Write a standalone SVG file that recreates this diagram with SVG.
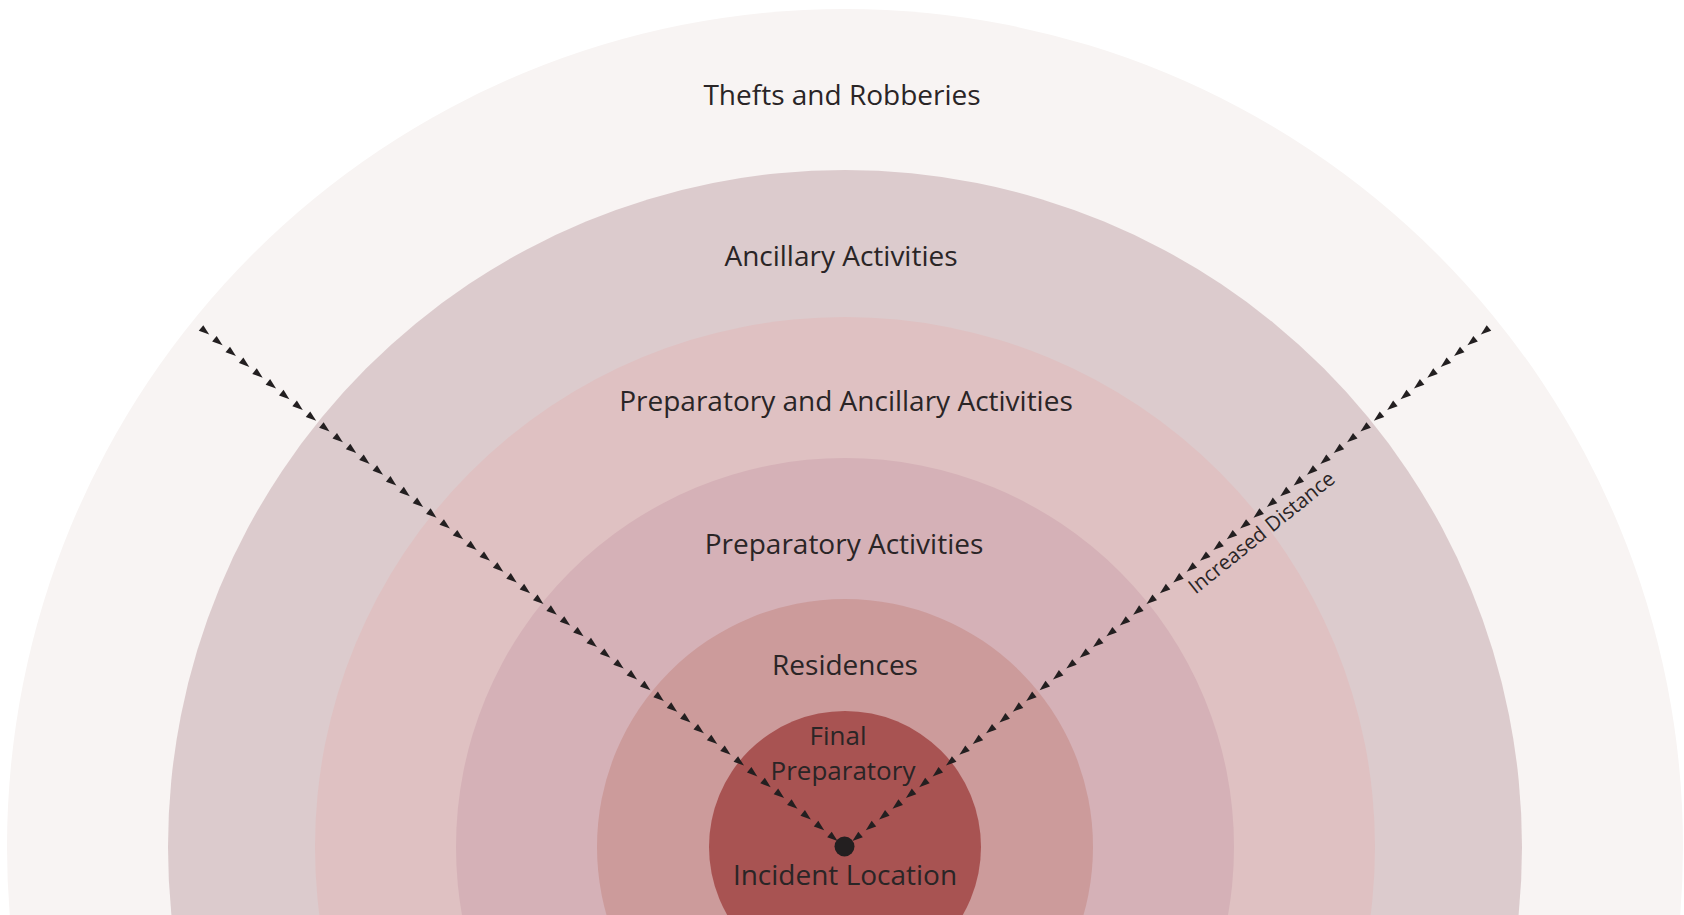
<svg xmlns="http://www.w3.org/2000/svg" width="1684" height="915" viewBox="0 0 1684 915">
<style>
.lbl{font-family:"Open Sans","Noto Sans","Liberation Sans",sans-serif;font-size:28px;fill:#2a2526;text-anchor:middle}
.lbl2{font-family:"Open Sans","Noto Sans","Liberation Sans",sans-serif;font-size:26px;fill:#2a2526;text-anchor:middle}
.small{font-family:"Open Sans","Noto Sans","Liberation Sans",sans-serif;font-size:20.5px;fill:#2a2526;text-anchor:middle}
.arrows{fill:none;stroke:none;marker-start:url(#ah);marker-mid:url(#ah);marker-end:url(#ah)}
</style>
<defs>
<marker id="ah" markerUnits="userSpaceOnUse" viewBox="-12 -5 14 10" markerWidth="14" markerHeight="10" refX="0" refY="0" orient="auto" overflow="visible">
<path d="M-10.5,0 L0,-3.6 L0,3.6 Z" fill="#231f20"/>
</marker>
</defs>
<rect x="0" y="0" width="1684" height="915" fill="#ffffff"/>
<g id="ring-thefts"><circle cx="845" cy="847" r="838" fill="#f8f4f3"/><text class="lbl" x="842" y="105">Thefts and Robberies</text></g>
<g id="ring-ancillary"><circle cx="845" cy="847" r="677" fill="#dccbcd"/><text class="lbl" x="841" y="266">Ancillary Activities</text></g>
<g id="ring-prep-ancillary"><circle cx="845" cy="847" r="530" fill="#dfc1c2"/><text class="lbl" x="846" y="411">Preparatory and Ancillary Activities</text></g>
<g id="ring-preparatory"><circle cx="845" cy="847" r="389" fill="#d5b1b7"/><text class="lbl" x="844" y="554">Preparatory Activities</text></g>
<g id="ring-residences"><circle cx="845" cy="847" r="248" fill="#cc9b9b"/><text class="lbl" x="845" y="675">Residences</text></g>
<g id="ring-final"><circle cx="845" cy="847" r="136" fill="#a85352"/><text class="lbl2" x="838" y="745">Final</text><text class="lbl2" x="843" y="780">Preparatory</text></g>
<g id="connectors">
<path class="arrows" d="M829.43,834.45 l-13.37,-10.776 l-13.37,-10.776 l-13.37,-10.776 l-13.37,-10.776 l-13.37,-10.776 l-13.37,-10.776 l-13.37,-10.776 l-13.37,-10.776 l-13.37,-10.776 l-13.37,-10.776 l-13.37,-10.776 l-13.37,-10.776 l-13.37,-10.776 l-13.37,-10.776 l-13.37,-10.776 l-13.37,-10.776 l-13.37,-10.776 l-13.37,-10.776 l-13.37,-10.776 l-13.37,-10.776 l-13.37,-10.776 l-13.37,-10.776 l-13.37,-10.776 l-13.37,-10.776 l-13.37,-10.776 l-13.37,-10.776 l-13.37,-10.776 l-13.37,-10.776 l-13.37,-10.776 l-13.37,-10.776 l-13.37,-10.776 l-13.37,-10.776 l-13.37,-10.776 l-13.37,-10.776 l-13.37,-10.776 l-13.37,-10.776 l-13.37,-10.776 l-13.37,-10.776 l-13.37,-10.776 l-13.37,-10.776 l-13.37,-10.776 l-13.37,-10.776 l-13.37,-10.776 l-13.37,-10.776 l-13.37,-10.776 l-13.37,-10.776 l-13.37,-10.776"/>
<path class="arrows" d="M860.57,834.45 l13.37,-10.776 l13.37,-10.776 l13.37,-10.776 l13.37,-10.776 l13.37,-10.776 l13.37,-10.776 l13.37,-10.776 l13.37,-10.776 l13.37,-10.776 l13.37,-10.776 l13.37,-10.776 l13.37,-10.776 l13.37,-10.776 l13.37,-10.776 l13.37,-10.776 l13.37,-10.776 l13.37,-10.776 l13.37,-10.776 l13.37,-10.776 l13.37,-10.776 l13.37,-10.776 l13.37,-10.776 l13.37,-10.776 l13.37,-10.776 l13.37,-10.776 l13.37,-10.776 l13.37,-10.776 l13.37,-10.776 l13.37,-10.776 l13.37,-10.776 l13.37,-10.776 l13.37,-10.776 l13.37,-10.776 l13.37,-10.776 l13.37,-10.776 l13.37,-10.776 l13.37,-10.776 l13.37,-10.776 l13.37,-10.776 l13.37,-10.776 l13.37,-10.776 l13.37,-10.776 l13.37,-10.776 l13.37,-10.776 l13.37,-10.776 l13.37,-10.776 l13.37,-10.776"/>
<text class="small" x="1266" y="538" transform="rotate(-38.86 1266 538)">Increased Distance</text>
</g>
<g id="incident"><circle cx="844.5" cy="846.5" r="10" fill="#231f20"/><text class="lbl" x="845" y="885">Incident Location</text></g>
</svg>
